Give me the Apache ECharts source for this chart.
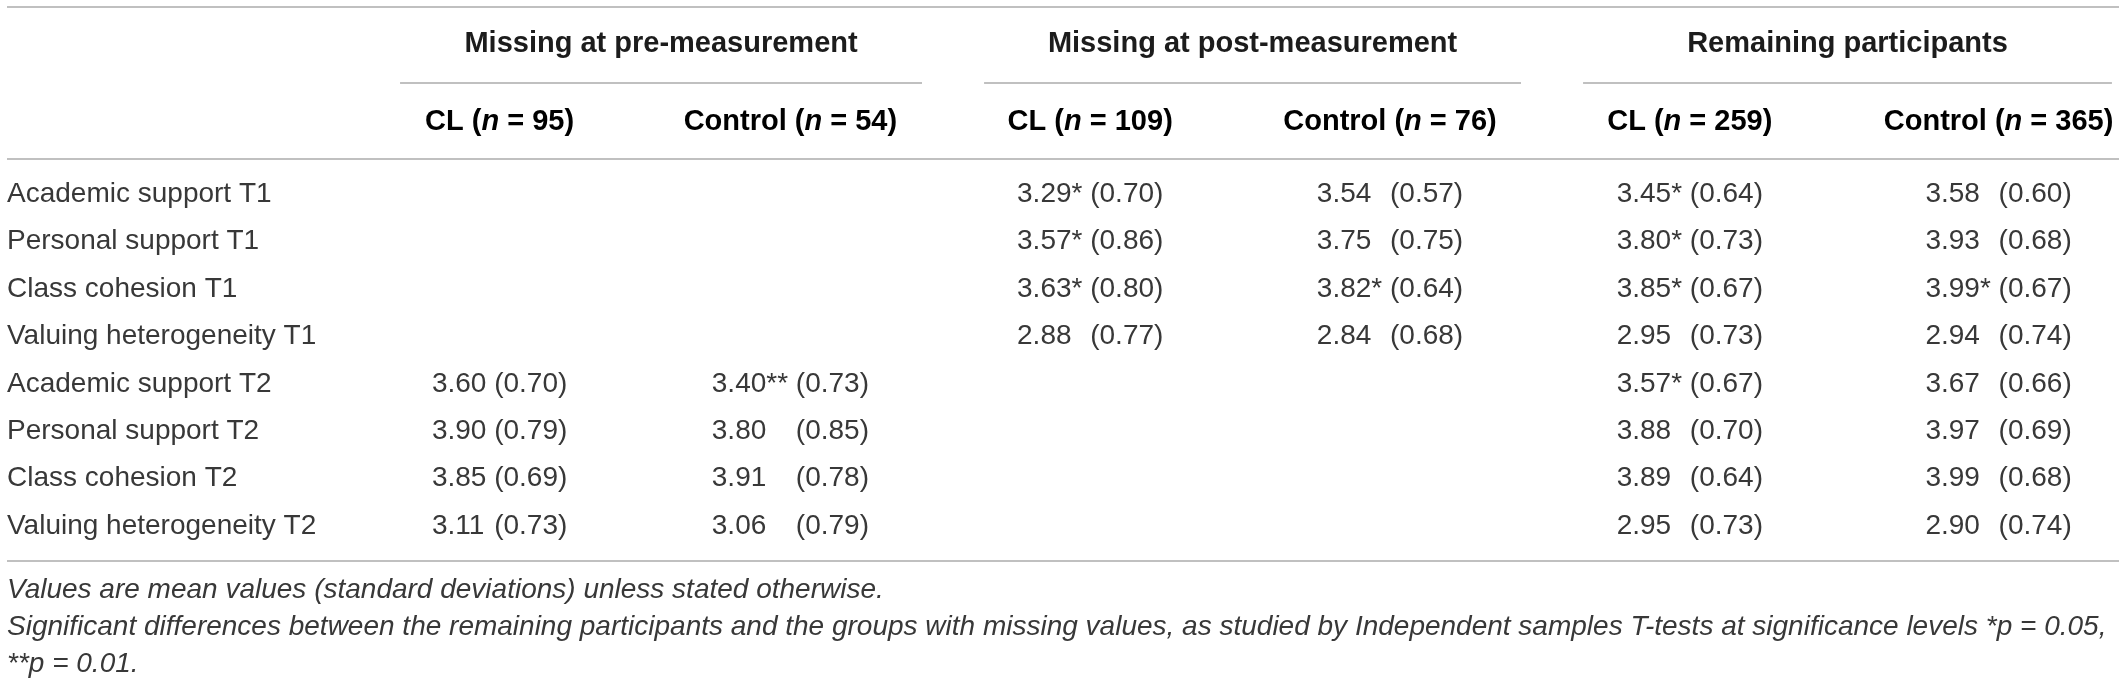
<!DOCTYPE html>
<html>
<head>
<meta charset="utf-8">
<title>Missing values table</title>
<script src="https://cdn.jsdelivr.net/npm/echarts@6/dist/echarts.min.js"></script>
<style>
    html, body { margin: 0; padding: 0; background: #fff; }
    #table_chart { width: 2119px; height: 686px; }
</style>
</head>
<body>
<div id="table_chart"></div>
<script>
// 表格数据
var rowLabels = [
    'Academic support T1', 'Personal support T1', 'Class cohesion T1', 'Valuing heterogeneity T1',
    'Academic support T2', 'Personal support T2', 'Class cohesion T2', 'Valuing heterogeneity T2'
];
var groupTitles = ['Missing at pre-measurement', 'Missing at post-measurement', 'Remaining participants'];
var colNames = ['CL', 'Control', 'CL', 'Control', 'CL', 'Control'];
var colN = [95, 54, 109, 76, 259, 365];

var preCLMean = [null, null, null, null, 3.60, 3.90, 3.85, 3.11];
var preCLSd = [null, null, null, null, 0.70, 0.79, 0.69, 0.73];
var preCLStars = [0, 0, 0, 0, 0, 0, 0, 0];

var preCtrlMean = [null, null, null, null, 3.40, 3.80, 3.91, 3.06];
var preCtrlSd = [null, null, null, null, 0.73, 0.85, 0.78, 0.79];
var preCtrlStars = [0, 0, 0, 0, 2, 0, 0, 0];

var postCLMean = [3.29, 3.57, 3.63, 2.88, null, null, null, null];
var postCLSd = [0.70, 0.86, 0.80, 0.77, null, null, null, null];
var postCLStars = [1, 1, 1, 0, 0, 0, 0, 0];

var postCtrlMean = [3.54, 3.75, 3.82, 2.84, null, null, null, null];
var postCtrlSd = [0.57, 0.75, 0.64, 0.68, null, null, null, null];
var postCtrlStars = [0, 0, 1, 0, 0, 0, 0, 0];

var remCLMean = [3.45, 3.80, 3.85, 2.95, 3.57, 3.88, 3.89, 2.95];
var remCLSd = [0.64, 0.73, 0.67, 0.73, 0.67, 0.70, 0.64, 0.73];
var remCLStars = [1, 1, 1, 0, 1, 0, 0, 0];

var remCtrlMean = [3.58, 3.93, 3.99, 2.94, 3.67, 3.97, 3.99, 2.90];
var remCtrlSd = [0.60, 0.68, 0.67, 0.74, 0.66, 0.69, 0.68, 0.74];
var remCtrlStars = [0, 0, 1, 0, 0, 0, 0, 0];

var notes = [
    'Values are mean values (standard deviations) unless stated otherwise.',
    'Significant differences between the remaining participants and the groups with missing values, as studied by Independent samples T-tests at significance levels *p = 0.05,',
    '**p = 0.01.'
];

// 布局 (轴单位: x = 列序号, y = 行序号)
var X_MIN = -0.6464, X_MAX = 6.4216;
var Y_MIN = -4.099, Y_MAX = 10.373;
var LEFT_X = -0.623;
var COL_X = [1.02, 1.99, 2.99, 3.99, 4.99, 6.02];
var GROUP_SPAN = [[0.688, 2.429], [2.636, 4.427], [4.634, 6.398]];
var GROUP_Y = -3.171, SUB_Y = -1.525;
var TOP_RULE_Y = -3.951, GROUP_RULE_Y = -2.348, HEAD_RULE_Y = -0.745, BOTTOM_RULE_Y = 7.736;
var NOTE_Y = [8.356, 9.137, 9.918];

var FONT_FAMILY = '"Liberation Sans", Arial, Helvetica, sans-serif';
var BODY_SIZE = 28, HEAD_SIZE = 29;
var BODY_COLOR = '#383838', HEAD_COLOR = '#1c1c1c', RULE_COLOR = '#ababab';

var columns = [
    {mean: preCLMean, sd: preCLSd, stars: preCLStars},
    {mean: preCtrlMean, sd: preCtrlSd, stars: preCtrlStars},
    {mean: postCLMean, sd: postCLSd, stars: postCLStars},
    {mean: postCtrlMean, sd: postCtrlSd, stars: postCtrlStars},
    {mean: remCLMean, sd: remCLSd, stars: remCLStars},
    {mean: remCtrlMean, sd: remCtrlSd, stars: remCtrlStars}
];

var measureCtx = document.createElement('canvas').getContext('2d');
function textWidth(str) {
    measureCtx.font = BODY_SIZE + 'px ' + FONT_FAMILY;
    return measureCtx.measureText(str).width;
}
function starText(k) {
    return new Array(k + 1).join('*');
}

// 单元格
var cells = [];
rowLabels.forEach(function (label, r) {
    cells.push({x: LEFT_X, y: r, kind: 'label', text: label});
});
groupTitles.forEach(function (title, g) {
    cells.push({x: (GROUP_SPAN[g][0] + GROUP_SPAN[g][1]) / 2, y: GROUP_Y, kind: 'group', text: title});
});
colNames.forEach(function (name, c) {
    cells.push({x: COL_X[c], y: SUB_Y, kind: 'sub', text: '{b|' + name + ' (}{i|n}{b| = ' + colN[c] + ')}'});
});
columns.forEach(function (col, c) {
    var widest = 0;
    col.mean.forEach(function (m, r) {
        if (m === null) return;
        widest = Math.max(widest, textWidth(m.toFixed(2) + starText(col.stars[r])));
    });
    var meanBox = widest + textWidth(' ');
    col.mean.forEach(function (m, r) {
        if (m === null) return;
        var sdText = '(' + col.sd[r].toFixed(2) + ')';
        cells.push({
            x: COL_X[c], y: r, kind: 'value',
            text: m.toFixed(2) + starText(col.stars[r]),
            sd: sdText,
            meanBox: meanBox,
            total: meanBox + textWidth(sdText)
        });
    });
});
notes.forEach(function (note, i) {
    cells.push({x: LEFT_X, y: NOTE_Y[i], kind: 'note', text: note});
});

// 横线
var rules = [
    [LEFT_X, TOP_RULE_Y, X_MAX],
    [GROUP_SPAN[0][0], GROUP_RULE_Y, GROUP_SPAN[0][1]],
    [GROUP_SPAN[1][0], GROUP_RULE_Y, GROUP_SPAN[1][1]],
    [GROUP_SPAN[2][0], GROUP_RULE_Y, GROUP_SPAN[2][1]],
    [LEFT_X, HEAD_RULE_Y, X_MAX],
    [LEFT_X, BOTTOM_RULE_Y, X_MAX]
];

function bodyStyle(text, align, italic) {
    return {
        text: text,
        fontFamily: FONT_FAMILY,
        fontSize: BODY_SIZE,
        fontStyle: italic ? 'italic' : 'normal',
        fill: BODY_COLOR,
        align: align,
        verticalAlign: 'middle'
    };
}

var table_chart = echarts.init(document.getElementById('table_chart'), null, {renderer: 'canvas'});

option = {
    animation: false,
    backgroundColor: '#ffffff',
    grid: {left: 0, right: 0, top: 0, bottom: 0},
    xAxis: {type: 'value', min: X_MIN, max: X_MAX, show: false},
    yAxis: {type: 'value', inverse: true, min: Y_MIN, max: Y_MAX, show: false},
    series: [
        {
            name: 'rules',
            type: 'custom',
            silent: true,
            clip: false,
            data: rules.map(function (r) { return [r[0], r[1], r[2]]; }),
            encode: {x: [0, 2], y: 1},
            renderItem: function (params, api) {
                var p1 = api.coord([api.value(0), api.value(1)]);
                var p2 = api.coord([api.value(2), api.value(1)]);
                return {
                    type: 'line',
                    shape: {x1: p1[0], y1: p1[1], x2: p2[0], y2: p2[1]},
                    style: {stroke: RULE_COLOR, lineWidth: 1.5}
                };
            }
        },
        {
            name: 'cells',
            type: 'custom',
            silent: true,
            clip: false,
            data: cells.map(function (c) { return [c.x, c.y]; }),
            renderItem: function (params, api) {
                var cell = cells[params.dataIndex];
                var p = api.coord([api.value(0), api.value(1)]);
                if (cell.kind === 'value') {
                    var left = p[0] - cell.total / 2;
                    return {
                        type: 'group',
                        children: [
                            {type: 'text', x: left, y: p[1], style: bodyStyle(cell.text, 'left')},
                            {type: 'text', x: left + cell.meanBox, y: p[1], style: bodyStyle(cell.sd, 'left')}
                        ]
                    };
                }
                if (cell.kind === 'group') {
                    return {
                        type: 'text', x: p[0], y: p[1],
                        style: {
                            text: cell.text,
                            fontFamily: FONT_FAMILY,
                            fontSize: HEAD_SIZE,
                            fontWeight: 'bold',
                            fill: HEAD_COLOR,
                            align: 'center',
                            verticalAlign: 'middle'
                        }
                    };
                }
                if (cell.kind === 'sub') {
                    return {
                        type: 'text', x: p[0], y: p[1],
                        style: {
                            text: cell.text,
                            align: 'center',
                            verticalAlign: 'middle',
                            rich: {
                                b: {fontFamily: FONT_FAMILY, fontSize: HEAD_SIZE, fontWeight: 'bold', color: HEAD_COLOR},
                                i: {fontFamily: FONT_FAMILY, fontSize: HEAD_SIZE, fontWeight: 'bold', fontStyle: 'italic', color: HEAD_COLOR}
                            }
                        }
                    };
                }
                return {
                    type: 'text', x: p[0], y: p[1],
                    style: bodyStyle(cell.text, 'left', cell.kind === 'note')
                };
            }
        }
    ]
};
table_chart.setOption(option);
</script>
</body>
</html>
